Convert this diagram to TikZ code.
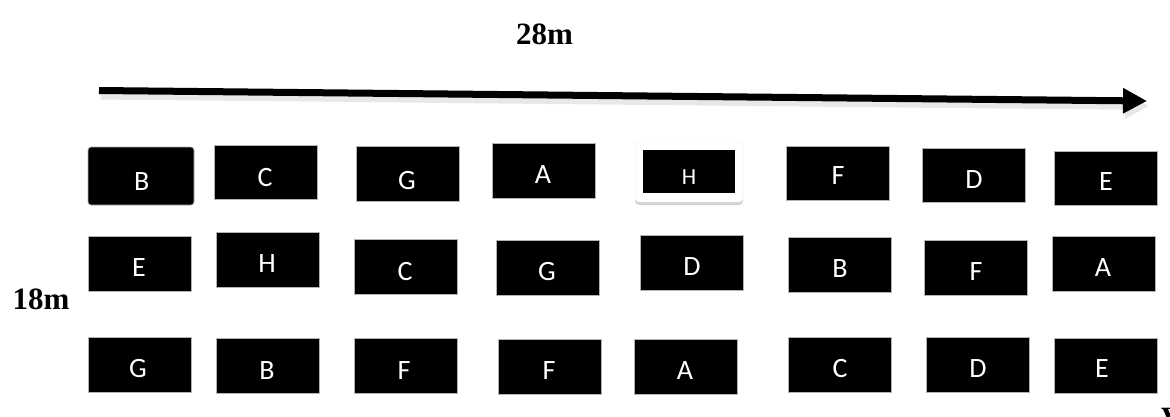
\documentclass[tikz,border=0pt]{standalone}
\usepackage{fontspec}
\setmainfont{Liberation Serif}
\newfontfamily\carl{Carlito}
\usetikzlibrary{arrows.meta,shadows}
\tikzset{
  blk/.style={draw=gray!60, line width=0.7pt, fill=black, inner sep=0pt},
  lett/.style={text=white, inner sep=0pt, font=\carl\fontsize{28}{28}\selectfont},
  dimlab/.style={inner sep=0pt, font=\fontsize{31}{31}\selectfont\bfseries, anchor=base},
}
\newcommand{\bx}[8]{%
  \node[blk, minimum width={(#3-#1)*1pt}, minimum height={(#4-#2)*1pt}] (b#8) at ({(#1+#3)/2},{(#2+#4)/2}) {};
  \node[lett] (t#8) at (#5,#6) {#7};
}
\begin{document}
\begin{tikzpicture}[x=1pt,y=-1pt]
\useasboundingbox (0,0) rectangle (1170,416);
% labels
\node[dimlab] (w) at (544.5,44) {28m};
\node[dimlab] (h) at (41,309) {18m};
% arrow
\coordinate (as) at (99,90.5);
\coordinate (ae) at (1147,101);
\coordinate (ass) at (101,95.5);
\coordinate (aes) at (1149,106);
\draw[gray!18, line width=8pt, -{Triangle[length=24pt,width=25pt]}] (ass) -- (aes);
\draw[black, line width=7pt, -{Triangle[length=24pt,width=24pt]}] (as) -- (ae);
% row 1
\node[blk, rounded corners=3pt, minimum width=106pt, minimum height=58pt] (b11) at (141,176) {};
\node[lett] (t11) at (141.7,182) {B};
\bx{214}{145}{317}{199}{265}{177.5}{C}{12}
\bx{356}{146}{459}{201}{407}{180.5}{G}{13}
\bx{492}{143}{595}{198}{543}{175}{A}{14}
\node[draw=gray!15, fill=white, rounded corners=4pt, minimum width=108pt, minimum height=60pt, inner sep=0pt,
  drop shadow={opacity=0.35, shadow xshift=0pt, shadow yshift=-3pt}] (f15) at (689,172) {};
\node[fill=black, inner sep=0pt, minimum width=92pt, minimum height=43pt] (b15) at (689,171.5) {};
\node[lett, font=\carl\fontsize{23}{23}\selectfont] (t15) at (689,177) {H};
\bx{786}{146}{889}{200}{838}{175.7}{F}{16}
\bx{922}{148}{1025}{202}{974}{180}{D}{17}
\bx{1054}{151}{1157}{205}{1106}{182}{E}{18}
% row 2
\bx{88}{236}{191}{291}{139}{268}{E}{21}
\bx{216}{232}{319}{287}{267}{264}{H}{22}
\bx{354}{239}{457}{294}{405}{272}{C}{23}
\bx{496}{240}{599}{295}{547}{272}{G}{24}
\bx{640}{235}{743}{290}{692}{267}{D}{25}
\bx{788}{237}{891}{292}{840}{269}{B}{26}
\bx{924}{240}{1027}{295}{976}{272}{F}{27}
\bx{1052}{236}{1155}{291}{1103}{268}{A}{28}
% row 3
\bx{88}{337}{191}{392}{138}{369}{G}{31}
\bx{216}{338}{319}{393}{267}{371}{B}{32}
\bx{354}{338}{457}{393}{404}{371}{F}{33}
\bx{498}{339}{601}{394}{549}{371}{F}{34}
\bx{634}{339}{737}{394}{685}{371}{A}{35}
\bx{788}{337}{891}{392}{840}{369}{C}{36}
\bx{926}{337}{1029}{392}{978}{369}{D}{37}
\bx{1054}{338}{1157}{393}{1102}{369}{E}{38}
% partial glyph at the lower right edge
\node[inner sep=0pt, anchor=north west, font=\fontsize{31}{31}\selectfont\bfseries] (v) at (1161,408) {V};
\end{tikzpicture}
\end{document}
